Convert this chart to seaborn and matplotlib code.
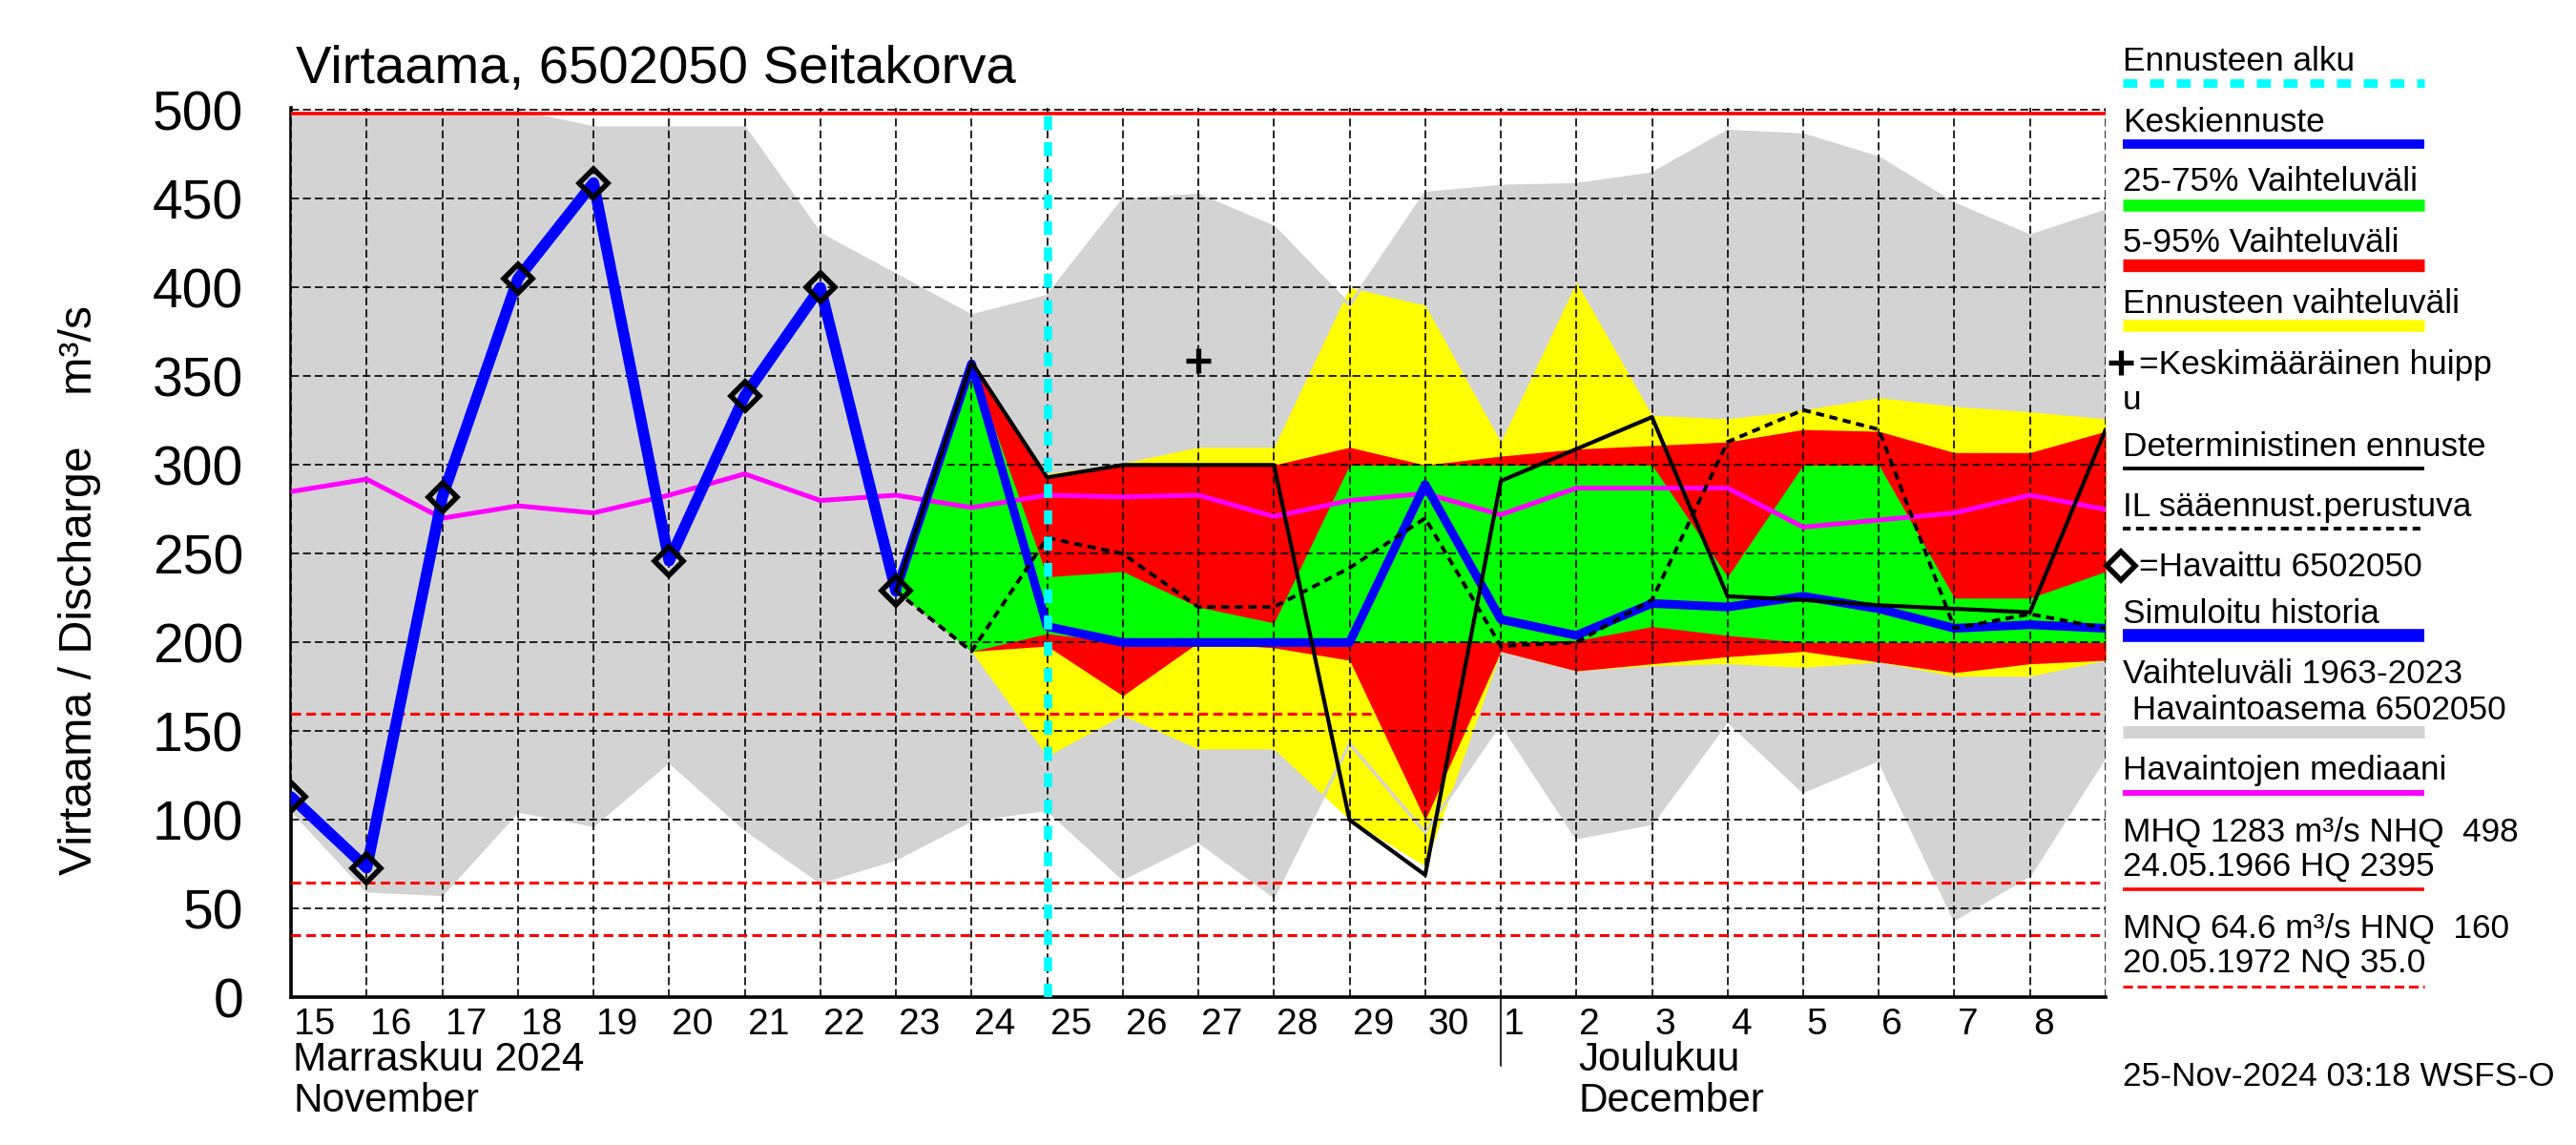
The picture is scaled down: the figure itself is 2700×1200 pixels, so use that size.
import matplotlib
matplotlib.use('Agg')
import matplotlib.pyplot as plt
from matplotlib.lines import Line2D
import seaborn as sns

# päiväindeksi: 0 = 15.11.2024 ... 24 = 9.12.2024
days = list(range(25))
obs_days = list(range(0, 9))      # havainnot 15.-23.11.
fc_days = list(range(8, 25))      # ennuste 23.11.-9.12.
day_labels = ['15', '16', '17', '18', '19', '20', '21', '22', '23', '24', '25', '26',
              '27', '28', '29', '30', '1', '2', '3', '4', '5', '6', '7', '8']

# havaittu virtaama (m3/s)
observed = [113, 73, 282, 405, 459, 246, 339, 400, 229]

# vaihteluväli 1963-2023
hist_upper = [498, 498, 498, 499, 490, 490, 490, 430, 407, 384, 395, 449, 452,
              434, 390, 453, 457, 458, 464, 488, 486, 473, 447, 429, 443]
hist_lower = [106, 60, 58, 105, 97, 133, 95, 65, 78, 100, 106, 67, 88,
              57, 143, 93, 155, 90, 98, 156, 116, 134, 44, 69, 136]
median = [285, 292, 270, 277, 273, 283, 295, 280, 283, 276, 283, 282, 283,
          271, 280, 284, 272, 287, 287, 287, 265, 269, 273, 283, 275]

# ennusteet
mean_fc = [229, 357, 209, 200, 200, 200, 200, 289, 213, 204, 222, 220, 226, 219, 208, 210, 208]
determ = [229, 358, 293, 300, 300, 300, 100, 69, 291, 309, 327, 226, 224, 221, 219, 217, 320]
il_fc = [229, 195, 259, 250, 220, 220, 242, 270, 198, 200, 224, 313, 331, 320, 208, 216, 208]
p75 = [229, 357, 237, 240, 220, 211, 300, 300, 300, 300, 300, 237, 300, 300, 225, 225, 240]
p25 = [229, 195, 205, 200, 200, 200, 200, 200, 200, 201, 209, 204, 200, 200, 200, 200, 200]
p95 = [229, 357, 293, 300, 300, 300, 310, 300, 305, 309, 311, 313, 320, 319, 307, 307, 319]
p05 = [229, 195, 198, 170, 200, 197, 190, 100, 195, 184, 188, 192, 195, 189, 183, 188, 190]
ens_max = [229, 357, 295, 301, 310, 310, 400, 390, 313, 403, 328, 326, 331, 338, 333, 330, 326]
ens_min = [229, 195, 136, 159, 140, 140, 100, 74, 195, 184, 187, 188, 186, 189, 181, 181, 190]

peak_day, peak_value = 12, 359
forecast_start = 10
NHQ, HNQ, MNQ, NQ = 498, 160, 64.6, 35.0

sns.set_theme(style='white')
plt.rcParams['font.family'] = ['Liberation Sans', 'DejaVu Sans']
plt.rcParams.update({'axes.edgecolor': 'black', 'xtick.color': 'black', 'ytick.color': 'black',
                     'text.color': 'black', 'axes.labelcolor': 'black'})

fig = plt.figure(figsize=(13.5, 6), dpi=200)
ax = fig.add_axes([0.113, 0.1289, 0.7044, 0.7773])
ax.set_facecolor('white')

# alueet
ax.fill_between(days, hist_lower, hist_upper, color='#d3d3d3', lw=0, zorder=1.0)
ax.fill_between(fc_days, ens_min, ens_max, color='#ffff00', lw=0, zorder=1.1)
ax.plot(days, hist_upper, color='#d3d3d3', lw=1.2, zorder=1.15)
ax.plot(days, hist_lower, color='#d3d3d3', lw=1.2, zorder=1.15)
ax.fill_between(fc_days, p05, p95, color='#ff0000', lw=0, zorder=1.2)
ax.fill_between(fc_days, p25, p75, color='#00ff00', lw=0, zorder=1.3)

# raja-arvot
ax.axhline(NHQ, color='#ff0000', lw=1.3, zorder=2.6)
for q in (HNQ, MNQ, NQ):
    ax.axhline(q, color='#ff0000', lw=1.1, linestyle=(0, (3.3, 1.8)), zorder=2.6)

# viivat
sns.lineplot(x=days, y=median, ax=ax, color='#ff00ff', lw=1.8, zorder=3)
sns.lineplot(x=obs_days, y=observed, ax=ax, color='#0000ff', lw=4.2, zorder=4)
sns.lineplot(x=fc_days, y=mean_fc, ax=ax, color='#0000ff', lw=3.3, zorder=4)
sns.lineplot(x=fc_days, y=determ, ax=ax, color='black', lw=1.5, zorder=5)
sns.lineplot(x=fc_days, y=il_fc, ax=ax, color='black', lw=1.4,
             linestyle=(0, (2.2, 1.5)), zorder=5)
ax.plot(obs_days, observed, ls='none', marker='D', ms=7.6, mfc='none', mec='black',
        mew=2.0, zorder=7)
ax.plot([peak_day], [peak_value], ls='none', marker='+', ms=9.5, mec='black', mew=1.9, zorder=7)
ax.axvline(forecast_start, color='#00ffff', lw=3.1, linestyle=(0, (1.7, 1.5)), zorder=8)

# akselit
ax.set_xlim(0, 24)
ax.set_ylim(0, 501.5)
ax.set_axisbelow(False)
ax.set_xticks(days)
ax.set_xticklabels([])
ax.set_xticks([d + 0.04 for d in range(24)], minor=True)
ax.set_xticklabels(day_labels, minor=True, ha='left')
ax.tick_params(axis='x', which='major', direction='out', length=12.6, width=0.6)
ax.tick_params(axis='x', which='minor', length=0, pad=4.0, labelsize=14)
ax.set_yticks(range(0, 501, 50))
ax.tick_params(axis='y', direction='in', length=16, width=0.8, pad=18, labelsize=20.5)
ax.grid(True, which='major', color='black', lw=0.6, linestyle=(0, (5, 2.5)))
ax.axvline(16, ymin=-0.077, ymax=0, clip_on=False, color='black', lw=0.6)
ax.set_xlabel('')
ax.set_ylabel('')
for side in ('top', 'right'):
    ax.spines[side].set_visible(False)
for side in ('left', 'bottom'):
    ax.spines[side].set_linewidth(1.3)
    ax.spines[side].set_zorder(0.5)

xt = ax.get_xaxis_transform()
ax.text(0.03, -0.0822, 'Marraskuu 2024', transform=xt, fontsize=15.2, va='baseline')
ax.text(0.03, -0.1283, 'November', transform=xt, fontsize=15.2, va='baseline')
ax.text(17.03, -0.0822, 'Joulukuu', transform=xt, fontsize=15.2, va='baseline')
ax.text(17.03, -0.1283, 'December', transform=xt, fontsize=15.2, va='baseline')

fig.text(0.1148, 1 - 87 / 1200, 'Virtaama, 6502050 Seitakorva', fontsize=20.2, va='baseline')
fig.text(0.031, 0.4845, 'Virtaama / Discharge    m³/s', rotation=90, ha='center',
         va='center', fontsize=17.4)

# selite oikealla (y pikseleinä ylhäältä)
def fy(px):
    return 1 - px / 1200

lx0, lx1 = 2225 / 2700, 2541 / 2700
legend_texts = [
    (74, 'Ennusteen alku', lx0), (138.3, 'Keskiennuste', lx0),
    (200.3, '25-75% Vaihteluväli', lx0), (264.2, '5-95% Vaihteluväli', lx0),
    (328.5, 'Ennusteen vaihteluväli', lx0), (391.6, '=Keskimääräinen huipp', 2242 / 2700),
    (428.8, 'u', lx0), (477.8, 'Deterministinen ennuste', lx0),
    (540.9, 'IL sääennust.perustuva', lx0), (604, '=Havaittu 6502050', 2242 / 2700),
    (652.8, 'Simuloitu historia', lx0), (716, 'Vaihteluväli 1963-2023', lx0),
    (753.5, ' Havaintoasema 6502050', lx0), (817, 'Havaintojen mediaani', lx0),
    (882, 'MHQ 1283 m³/s NHQ  498', lx0), (917.7, '24.05.1966 HQ 2395', lx0),
    (982.7, 'MNQ 64.6 m³/s HNQ  160', lx0), (1018.4, '20.05.1972 NQ 35.0', lx0),
    (1138, '25-Nov-2024 03:18 WSFS-O', lx0),
]
for py, s, x in legend_texts:
    fig.text(x, fy(py), s, fontsize=12.7, va='baseline')

legend_lines = [
    (86.6, '#00ffff', 3.2, (0, (1.65, 1.5))), (150.6, '#0000ff', 3.5, '-'),
    (214.5, '#00ff00', 4.5, '-'), (278, '#ff0000', 4.8, '-'), (341, '#ffff00', 4.5, '-'),
    (491.2, 'black', 1.4, '-'), (554.3, 'black', 1.4, (0, (2.1, 1.45))),
    (666, '#0000ff', 4.9, '-'), (767, '#d3d3d3', 4.7, '-'), (831, '#ff00ff', 2.2, '-'),
    (932, '#ff0000', 1.3, '-'), (1033.5, '#ff0000', 1.1, (0, (3.3, 1.6))),
]
for py, c, lw, ls in legend_lines:
    fig.add_artist(Line2D([lx0, lx1], [fy(py), fy(py)], transform=fig.transFigure,
                          color=c, lw=lw, linestyle=ls, solid_capstyle='butt',
                          dash_capstyle='butt'))
fig.add_artist(Line2D([2223 / 2700], [fy(380)], transform=fig.transFigure, marker='+',
                      ms=9.5, mew=1.9, color='black', ls='none'))
fig.add_artist(Line2D([2223 / 2700], [fy(593)], transform=fig.transFigure, marker='D',
                      ms=7.6, mew=2.0, mfc='none', mec='black', ls='none'))

fig.savefig('out.png', dpi=200, facecolor='white')
